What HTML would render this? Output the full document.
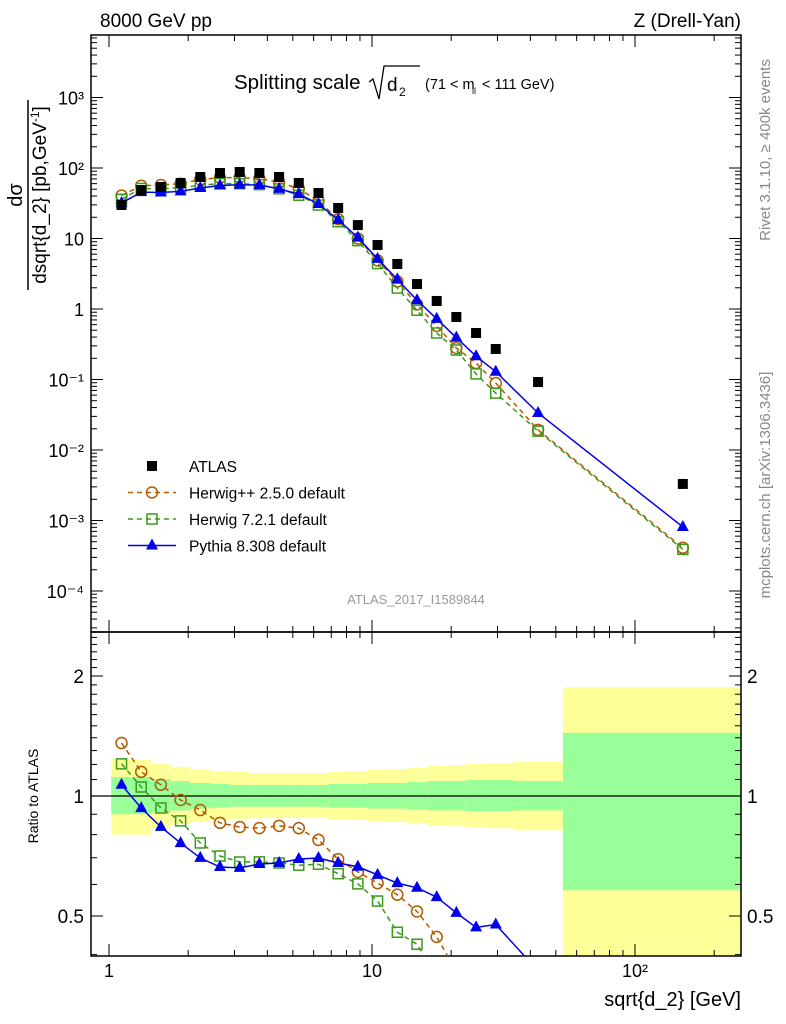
<!DOCTYPE html>
<html><head><meta charset="utf-8"><style>
html,body{margin:0;background:#fff;overflow:hidden;width:786px;height:1024px}
svg{display:block;font-family:"Liberation Sans",Arial,sans-serif}
</style></head><body>
<svg id="c" width="786" height="1024" xmlns="http://www.w3.org/2000/svg">
<text x="100" y="27" font-size="19">8000 GeV pp</text>
<text x="741" y="27" font-size="19" text-anchor="end">Z (Drell-Yan)</text>
<g>
<text x="234" y="89" font-size="20.5">Splitting scale</text>
<path d="M369 82 L373 79 L379 99 L384 66 L420 66" fill="none" stroke="#000" stroke-width="1.3"/>
<text x="387" y="91" font-size="19">d</text><text x="399" y="96" font-size="12">2</text>
<text x="425" y="89" font-size="14.5">(71 &lt; m</text><text x="472" y="94" font-size="9">ll</text><text x="482" y="89" font-size="14.5">&lt; 111 GeV)</text>
</g>
<text transform="translate(770,150) rotate(-90)" font-size="15" fill="#888" text-anchor="middle">Rivet 3.1.10, ≥ 400k events</text>
<text transform="translate(770,485) rotate(-90)" font-size="15" fill="#888" text-anchor="middle">mcplots.cern.ch [arXiv:1306.3436]</text>
<text x="416" y="604" font-size="13" fill="#999" text-anchor="middle">ATLAS_2017_I1589844</text>
<g transform="translate(22,175) rotate(-90)">
<text x="-20" y="0" font-size="20" text-anchor="middle">dσ</text>
<line x1="-115" y1="6" x2="75" y2="6" stroke="#000" stroke-width="1.5"/>
<text x="-20" y="24" font-size="19" text-anchor="middle">dsqrt{d_2} [pb,GeV<tspan font-size="12" dy="-7">-1</tspan><tspan dy="7">]</tspan></text>
</g>
<text transform="translate(38,796) rotate(-90)" font-size="14" text-anchor="middle">Ratio to ATLAS</text>
<text x="741" y="1006" font-size="20" text-anchor="end">sqrt{d_2} [GeV]</text>
<g id="bands"></g><g id="axes"></g><g id="series"></g><g id="legend"></g>
</svg>
<script>
const xVals=[1.116,1.326,1.575,1.872,2.224,2.642,3.140,3.730,4.433,5.267,6.258,7.436,8.836,10.50,12.48,14.83,17.62,20.93,24.87,29.55,42.8,152];
const binEdges=[1.02,1.216,1.445,1.717,2.040,2.424,2.880,3.422,4.066,4.832,5.741,6.822,8.106,9.632,11.44,13.60,16.16,19.20,22.81,27.11,34.5,53.2,253];
const atlas=[29.9,48.7,53.8,61.3,74.5,85,87.7,85,74.5,61.3,44.2,27.1,15.5,8.09,4.35,2.26,1.30,0.77,0.457,0.271,0.092,0.0033];
const herwigpp=[40.6,56.0,57.4,59.9,68.7,72.8,73.3,70.6,62.7,50.9,34.3,18.8,10.0,4.89,2.46,1.16,0.576,0.280,0.171,0.089,0.0193,0.00041];
const herwig7=[36.0,51.3,50.2,53.1,56.8,60.1,59.9,58.1,50.6,41.1,29.8,17.3,9.33,4.41,1.98,0.96,0.457,0.262,0.120,0.064,0.0185,0.00039];
const pythia=[31.9,45.4,45.0,46.7,52.1,56.4,57.9,57.4,50.6,42.6,30.9,18.4,10.3,5.13,2.63,1.33,0.725,0.392,0.214,0.129,0.0335,0.00081];
const statUp=[0.116,0.116,0.103,0.09,0.078,0.072,0.066,0.066,0.066,0.066,0.066,0.072,0.072,0.078,0.078,0.084,0.09,0.09,0.097,0.097,0.09,0.44];
const statDn=[0.10,0.10,0.09,0.08,0.07,0.065,0.06,0.06,0.06,0.06,0.06,0.065,0.065,0.07,0.07,0.075,0.08,0.08,0.085,0.085,0.08,0.42];
const totUp=[0.238,0.231,0.203,0.183,0.169,0.155,0.149,0.142,0.142,0.142,0.142,0.149,0.155,0.162,0.169,0.176,0.19,0.196,0.203,0.21,0.217,0.875];
const totDn=[0.20,0.20,0.17,0.15,0.14,0.13,0.125,0.12,0.12,0.12,0.12,0.125,0.13,0.135,0.14,0.145,0.155,0.16,0.165,0.17,0.18,0.7];
const xTickLabels=["1","10","10²"];
const mainTickLabels=["10⁻⁴","10⁻³","10⁻²","10⁻¹","1","10","10²","10³"];
const ratioTickLabels=["0.5","1","2"];
const NS="http://www.w3.org/2000/svg";
const L=91,R=741,MT=35,MB=632,RT=632,RB=956;
const X=v=>109+263*Math.log10(v);
const Y=v=>309-70.5*Math.log10(v);
const YR=r=>796-120*Math.log2(r);
function mk(p,t,a){const e=document.createElementNS(NS,t);for(const k in a)e.setAttribute(k,a[k]);p.appendChild(e);return e;}
const bands=document.getElementById('bands'),axes=document.getElementById('axes'),ser=document.getElementById('series'),leg=document.getElementById('legend');
const clipR=mk(document.getElementById('c'),'clipPath',{id:'cr'});mk(clipR,'rect',{x:L,y:RT,width:R-L,height:RB-RT});
const clipM=mk(document.getElementById('c'),'clipPath',{id:'cm'});mk(clipM,'rect',{x:L,y:MT,width:R-L,height:MB-MT});
bands.setAttribute('clip-path','url(#cr)');
for(let i=0;i<xVals.length;i++){
 const x1=X(binEdges[i]),x2=X(binEdges[i+1]);
 let e=mk(bands,'rect',{x:x1,y:YR(1+totUp[i]),width:x2-x1,height:YR(1-totDn[i])-YR(1+totUp[i]),fill:'#ffff99'});
 
 
 e=mk(bands,'rect',{x:x1,y:YR(1+statUp[i]),width:x2-x1,height:YR(1-statDn[i])-YR(1+statUp[i]),fill:'#99ff99'});
 
 
}
mk(bands,'line',{x1:L,x2:R,y1:YR(1),y2:YR(1),stroke:'#000','stroke-width':1.2});
mk(axes,'rect',{x:L,y:MT,width:R-L,height:MB-MT,fill:'none',stroke:'#000','stroke-width':1.5});
mk(axes,'rect',{x:L,y:RT,width:R-L,height:RB-RT,fill:'none',stroke:'#000','stroke-width':1.5});
for(let d=0;d<3;d++)for(let m=1;m<10;m++){const v=m*Math.pow(10,d);const x=X(v);if(x<L||x>R)continue;const len=m==1?12:6;
 for(const [yb,yt] of [[MB,MT],[RB,RT]]){mk(axes,'line',{x1:x,x2:x,y1:yb,y2:yb-len,stroke:'#000'});mk(axes,'line',{x1:x,x2:x,y1:yt,y2:yt+len,stroke:'#000'});}}
xTickLabels.forEach((t,i)=>{const e=mk(axes,'text',{x:X(Math.pow(10,i)),y:977,'font-size':18,'text-anchor':'middle'});e.textContent=t;
 
 });
for(let d=-5;d<4;d++)for(let m=1;m<10;m++){const v=m*Math.pow(10,d);const y=Y(v);if(y<MT||y>MB)continue;const len=m==1?12:6;
 mk(axes,'line',{x1:L,x2:L+len,y1:y,y2:y,stroke:'#000'});mk(axes,'line',{x1:R,x2:R-len,y1:y,y2:y,stroke:'#000'});}
mainTickLabels.forEach((t,i)=>{const e=mk(axes,'text',{x:84,y:Y(Math.pow(10,i-4))+7,'font-size':18,'text-anchor':'end'});e.textContent=t;
 
 });
for(let r=0.4;r<2.6;r+=0.1){const y=YR(r);if(y<RT||y>RB)continue;const maj=Math.abs(r-0.5)<1e-6||Math.abs(r-1)<1e-6||Math.abs(r-2)<1e-6;const len=maj?12:6;
 mk(axes,'line',{x1:L,x2:L+len,y1:y,y2:y,stroke:'#000'});mk(axes,'line',{x1:R,x2:R-len,y1:y,y2:y,stroke:'#000'});}
ratioTickLabels.forEach(t=>{const y=YR(parseFloat(t))+7;
 let e=mk(axes,'text',{x:84,y:y,'font-size':19,'text-anchor':'end'});e.textContent=t;
 
 
 e=mk(axes,'text',{x:747,y:y,'font-size':19});e.textContent=t;
 
 });
function marker(g,type,x,y,col){
 if(type=='sq')return mk(g,'rect',{x:x-5,y:y-5,width:10,height:10,fill:'#000'});
 if(type=='circ')return mk(g,'circle',{cx:x,cy:y,r:5.5,fill:'none',stroke:col,'stroke-width':1.5});
 if(type=='osq')return mk(g,'rect',{x:x-5,y:y-5,width:10,height:10,fill:'none',stroke:col,'stroke-width':1.5});
 return mk(g,'path',{d:`M${x} ${y-7}L${x+6} ${y+4}L${x-6} ${y+4}Z`,fill:col});
}
const models=[[herwigpp,'circ','#b35a00','5,4','herwigpp'],[herwig7,'osq','#3a9a1a','5,4','herwig7'],[pythia,'tri','#0000ee','','pythia']];
const gm=mk(ser,'g',{'clip-path':'url(#cm)'}),gr=mk(ser,'g',{'clip-path':'url(#cr)'});
models.forEach(([vals,type,col,dash,nm])=>{
 let d='',dr='';
 vals.forEach((v,i)=>{d+=(i?'L':'M')+X(xVals[i])+' '+Y(v);dr+=(i?'L':'M')+X(xVals[i])+' '+YR(v/atlas[i]);});
 let p=mk(gm,'path',{d:d,fill:'none',stroke:col,'stroke-width':1.5,'stroke-dasharray':dash});
 
 
 p=mk(gr,'path',{d:dr,fill:'none',stroke:col,'stroke-width':1.5,'stroke-dasharray':dash});
 
 
 vals.forEach((v,i)=>{let e=marker(gm,type,X(xVals[i]),Y(v),col);
  
  
  e=marker(gr,type,X(xVals[i]),YR(v/atlas[i]),col);
  
  });
});
atlas.forEach((v,i)=>{const e=marker(gm,'sq',X(xVals[i]),Y(v),'#000');
 
 });
const entries=[['ATLAS','sq','#000',''],['Herwig++ 2.5.0 default','circ','#b35a00','5,4'],['Herwig 7.2.1 default','osq','#3a9a1a','5,4'],['Pythia 8.308 default','tri','#0000ee','']];
entries.forEach(([t,type,col,dash],i)=>{const y=466+26.5*i;
 const g=mk(leg,'g',{});
 
 
 if(i>0)mk(g,'line',{x1:128,x2:176,y1:y,y2:y,stroke:col,'stroke-width':1.5,'stroke-dasharray':dash});
 marker(g,type,152,y,col);
 const e=mk(g,'text',{x:189,y:y+6,'font-size':15.5});e.textContent=t;});
</script>
</body></html>
